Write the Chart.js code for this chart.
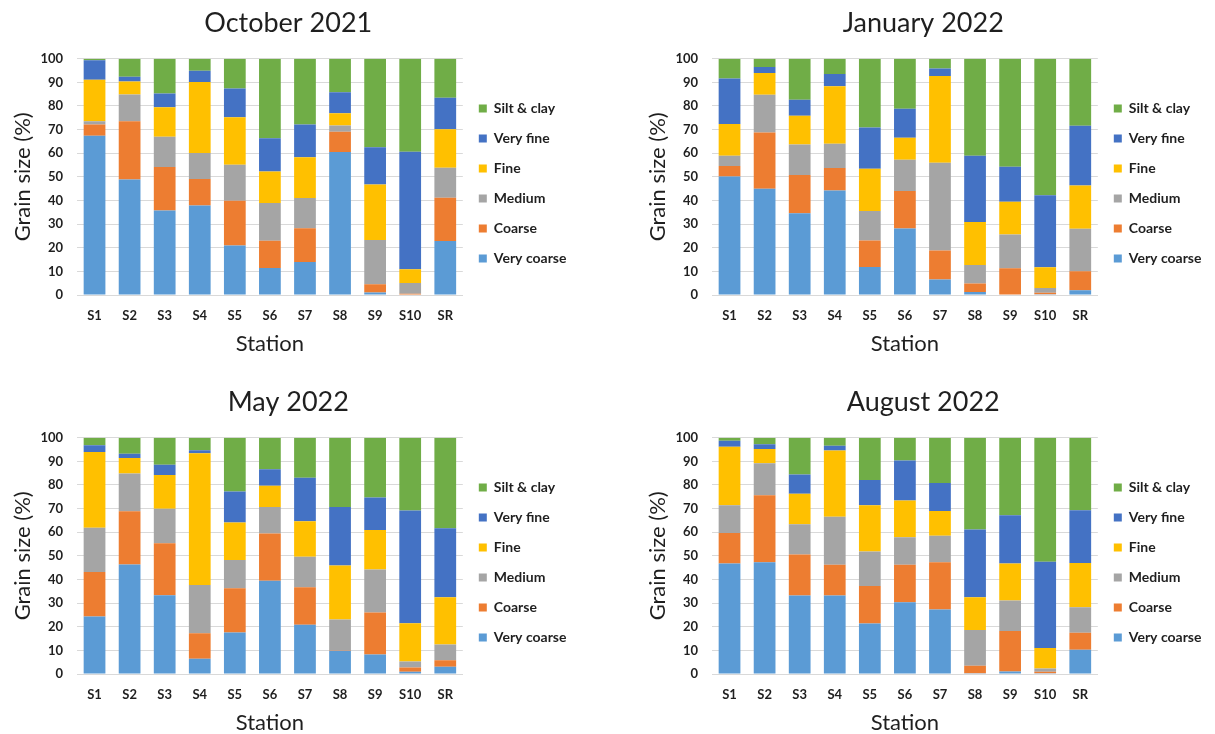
<!DOCTYPE html>
<html>
<head>
<meta charset="utf-8">
<title>Grain size by station</title>
<script src="https://cdn.jsdelivr.net/npm/chart.js@4/dist/chart.umd.min.js"></script>
<style>
  html, body { margin: 0; padding: 0; background: #fff; overflow: hidden; width: 1215px; height: 734px; }
  .panel { position: absolute; width: 580px; height: 360px; }
</style>
</head>
<body>
<div class="panel" style="left:0;top:0"><canvas id="oct" width="580" height="360"></canvas></div>
<div class="panel" style="left:635px;top:0"><canvas id="jan" width="580" height="360"></canvas></div>
<div class="panel" style="left:0;top:379px"><canvas id="may" width="580" height="360"></canvas></div>
<div class="panel" style="left:635px;top:379px"><canvas id="aug" width="580" height="360"></canvas></div>
<script>
// Sampling stations and sediment fractions (bottom to top of each stack)
const stations = ['S1', 'S2', 'S3', 'S4', 'S5', 'S6', 'S7', 'S8', 'S9', 'S10', 'SR'];
const fractionNames = ['Very coarse', 'Coarse', 'Medium', 'Fine', 'Very fine', 'Silt & clay'];
const fractionColors = ['#5B9BD5', '#ED7D31', '#A5A5A5', '#FFC000', '#4472C4', '#70AD47'];
const yTickValues = [0, 10, 20, 30, 40, 50, 60, 70, 80, 90, 100];

// October 2021 (% of sample)
const oct21VeryCoarse = [67.4, 48.9, 35.8, 37.9, 20.9, 11.4, 14.0, 60.5, 1.1, 0.0, 22.8];
const oct21Coarse     = [4.8, 24.6, 18.4, 11.2, 19.0, 11.6, 14.2, 8.6, 3.4, 0.5, 18.4];
const oct21Medium     = [1.3, 11.3, 12.8, 11.0, 15.2, 15.9, 12.8, 2.6, 18.8, 4.6, 12.7];
const oct21Fine       = [17.6, 5.5, 12.5, 30.0, 20.1, 13.4, 17.3, 5.2, 23.5, 5.8, 16.2];
const oct21VeryFine   = [8.2, 2.1, 5.8, 4.8, 12.2, 14.0, 13.9, 8.9, 15.7, 49.7, 13.4];
const oct21SiltClay   = [0.7, 7.6, 14.7, 5.1, 12.6, 33.7, 27.8, 14.2, 37.5, 39.4, 16.5];

// January 2022
const jan22VeryCoarse = [50.2, 45.0, 34.6, 44.2, 11.8, 28.1, 6.6, 1.3, 0.0, 0.3, 2.0];
const jan22Coarse     = [4.4, 23.8, 16.2, 9.5, 11.3, 15.9, 12.2, 3.6, 11.3, 0.7, 8.0];
const jan22Medium     = [4.3, 15.9, 12.9, 10.3, 12.5, 13.2, 37.2, 7.8, 14.3, 2.0, 18.0];
const jan22Fine       = [13.5, 9.3, 12.2, 24.3, 17.8, 9.3, 36.7, 18.2, 13.9, 8.7, 18.3];
const jan22VeryFine   = [19.2, 2.5, 6.7, 5.2, 17.5, 12.3, 3.2, 28.0, 14.8, 30.5, 25.3];
const jan22SiltClay   = [8.4, 3.5, 17.4, 6.5, 29.1, 21.2, 4.1, 41.1, 45.7, 57.8, 28.4];

// May 2022
const may22VeryCoarse = [24.3, 46.3, 33.3, 6.5, 17.6, 39.5, 20.8, 9.8, 8.2, 1.0, 3.1];
const may22Coarse     = [18.9, 22.6, 22.0, 10.7, 18.7, 20.0, 15.9, 0.2, 17.8, 1.7, 2.7];
const may22Medium     = [18.7, 15.9, 14.6, 20.5, 11.9, 11.2, 12.9, 13.1, 18.2, 2.6, 6.7];
const may22Fine       = [32.1, 6.6, 14.3, 55.7, 15.9, 9.0, 15.0, 22.8, 16.7, 16.2, 20.0];
const may22VeryFine   = [2.8, 1.8, 4.4, 1.3, 13.1, 6.9, 18.5, 24.8, 13.8, 47.7, 29.2];
const may22SiltClay   = [3.2, 6.8, 11.4, 5.3, 22.8, 13.4, 16.9, 29.3, 25.3, 30.8, 38.3];

// August 2022
const aug22VeryCoarse = [46.8, 47.3, 33.2, 33.2, 21.4, 30.4, 27.3, 0.3, 1.1, 0.3, 10.3];
const aug22Coarse     = [12.9, 28.3, 17.4, 13.0, 15.8, 15.8, 20.0, 3.2, 17.1, 0.7, 7.2];
const aug22Medium     = [11.7, 13.6, 12.8, 20.3, 14.6, 11.7, 11.2, 15.1, 12.9, 1.3, 10.8];
const aug22Fine       = [24.8, 6.0, 12.9, 28.1, 19.6, 15.5, 10.5, 13.9, 15.7, 8.7, 18.7];
const aug22VeryFine   = [2.5, 2.0, 8.1, 2.0, 10.7, 16.9, 11.8, 28.6, 20.4, 36.5, 22.3];
const aug22SiltClay   = [1.3, 2.8, 15.6, 3.4, 17.9, 9.7, 19.2, 38.9, 32.8, 52.5, 30.7];

const FONT = 'Lato';
const TEXT = '#1f1f1f';
const GRID = '#D9D9D9';

function makeChart(canvasId, title, series) {
  const datasets = series.map((values, i) => ({
    label: fractionNames[i],
    data: values,
    backgroundColor: fractionColors[i],
    borderWidth: 0,
    barPercentage: 0.62,
    categoryPercentage: 1.0
  }));

  return new Chart(document.getElementById(canvasId), {
    type: 'bar',
    data: { labels: stations, datasets },
    options: {
      responsive: false,
      animation: false,
      layout: { padding: { left: 0, right: 3.5, top: 7, bottom: 0 } },
      plugins: {
        title: {
          display: true,
          text: title,
          color: TEXT,
          font: { family: FONT, size: 27, weight: 'normal' },
          padding: { top: 0.5, bottom: 18.8 }
        },
        legend: {
          position: 'right',
          reverse: true,
          labels: {
            boxWidth: 8,
            boxHeight: 8,
            padding: 16,
            color: TEXT,
            font: { family: FONT, size: 14, weight: 'bold' }
          }
        },
        tooltip: { enabled: false }
      },
      scales: {
        x: {
          stacked: true,
          grid: { display: false, drawTicks: false },
          border: { display: true, color: GRID, width: 1 },
          ticks: { padding: 13, color: TEXT, font: { family: FONT, size: 13, weight: 'bold' } },
          title: {
            display: true,
            text: 'Station',
            color: TEXT,
            font: { family: FONT, size: 22, weight: 'normal' },
            padding: { top: 7, bottom: 3 }
          },
          afterFit(scale) { scale.height = 65; }
        },
        y: {
          stacked: true,
          min: 0,
          max: 100,
          afterBuildTicks(scale) { scale.ticks = yTickValues.map(v => ({ value: v })); },
          grid: { color: GRID, lineWidth: 1, drawTicks: false },
          border: { display: false },
          ticks: { padding: 14, color: TEXT, font: { family: FONT, size: 13, weight: 'bold' } },
          title: {
            display: true,
            text: 'Grain size (%)',
            color: TEXT,
            font: { family: FONT, size: 22, weight: 'normal' },
            padding: { top: 10, bottom: 4 }
          },
          afterFit(scale) { scale.width = 77; }
        }
      }
    }
  });
}

makeChart('oct', 'October 2021',
  [oct21VeryCoarse, oct21Coarse, oct21Medium, oct21Fine, oct21VeryFine, oct21SiltClay]);
makeChart('jan', 'January 2022',
  [jan22VeryCoarse, jan22Coarse, jan22Medium, jan22Fine, jan22VeryFine, jan22SiltClay]);
makeChart('may', 'May 2022',
  [may22VeryCoarse, may22Coarse, may22Medium, may22Fine, may22VeryFine, may22SiltClay]);
makeChart('aug', 'August 2022',
  [aug22VeryCoarse, aug22Coarse, aug22Medium, aug22Fine, aug22VeryFine, aug22SiltClay]);
</script>
</body>
</html>
